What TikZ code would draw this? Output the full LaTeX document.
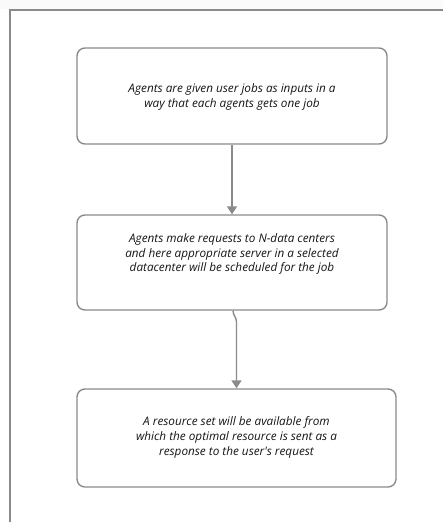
\documentclass[tikz,border=0pt]{standalone}
\usepackage{fontspec}
\setmainfont{Open Sans}
\usetikzlibrary{arrows.meta}
\definecolor{edge}{HTML}{8A8A8A}
\definecolor{ink}{HTML}{141414}
\tikzset{
  stepbox/.style={draw=edge, line width=1.4pt, rounded corners=8pt, inner sep=0pt},
  steptext/.style={text=ink, align=center, font=\fontsize{11.8}{15}\selectfont\itshape, inner sep=0pt},
  flow/.style={draw=edge, line width=1.4pt, -{Triangle[length=8pt,width=10pt]}},
}
\begin{document}
\begin{tikzpicture}[x=1bp, y=-1bp]
  \useasboundingbox (0,0) rectangle (443,522);
  % faint page band and frame
  \fill[gray!4] (0,0) rectangle (443,9);
  \draw[edge, line width=1.4pt] (443,10) -- (10,10) -- (10,522);

  % step boxes
  \node[stepbox, minimum width=310bp, minimum height=96bp] (b1) at (232,96) {};
  \node[stepbox, minimum width=310bp, minimum height=95bp] (b2) at (232,262.5) {};
  \node[stepbox, minimum width=319bp, minimum height=98bp] (b3) at (236.5,438) {};

  % step texts
  \node[steptext] (t1) at (232,97) {Agents are given user jobs as inputs in a\\way that each agents gets one job};
  \node[steptext] (t2) at (232,254) {Agents make requests to N-data centers\\and here appropriate server in a selected\\datacenter will be scheduled for the job};
  \node[steptext] (t3) at (236.5,437) {A resource set will be available from\\which the optimal resource is sent as a\\response to the user\textquotesingle s request};

  % connectors
  \draw[flow] (b1.south) -- (b2.north);
  \coordinate (k) at (236.5,322);
  \draw[flow] ([xshift=1bp]b2.south) to[out=-90,in=90] (k) -- (b3.north);
\end{tikzpicture}
\end{document}
